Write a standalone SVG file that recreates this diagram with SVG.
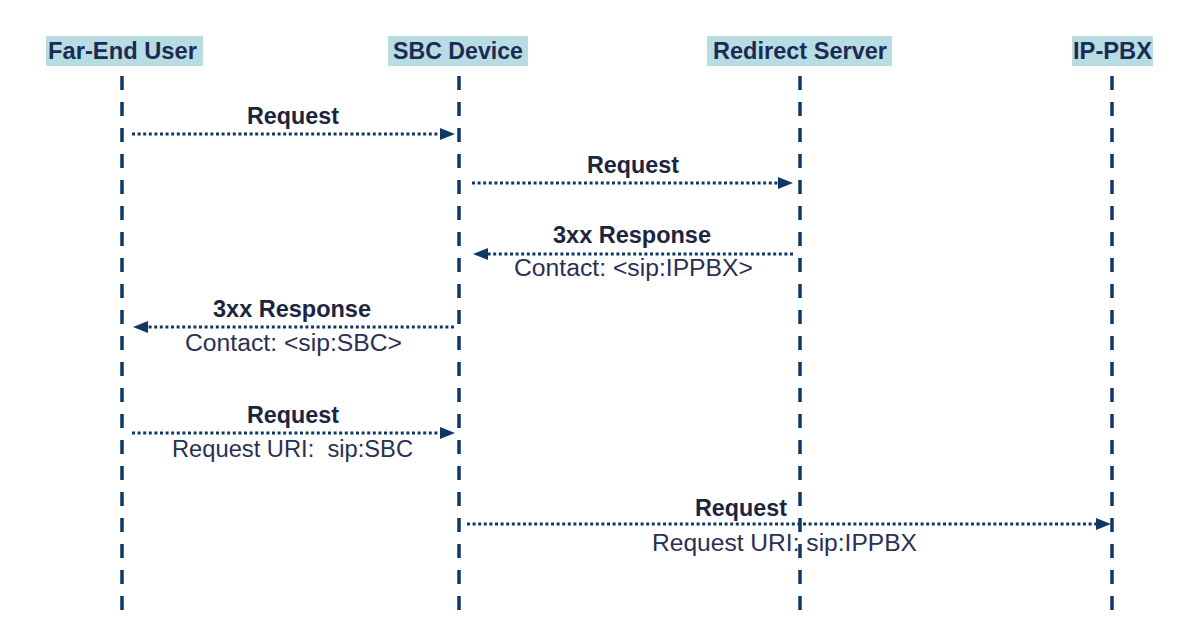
<svg xmlns="http://www.w3.org/2000/svg" width="1182" height="640" viewBox="0 0 1182 640">
<style>
.hdr{fill:#b7dde2}
.ht{font-family:"Liberation Sans",Arial,sans-serif;font-weight:bold;font-size:23px;fill:#1c2b55;text-anchor:middle}
.life{stroke:#0f3766;stroke-width:3.5;stroke-dasharray:14 12;fill:none}
.msg{stroke:#0f3766;stroke-width:3;stroke-dasharray:3 2.6;fill:none}
.lb{font-family:"Liberation Sans",Arial,sans-serif;font-weight:bold;font-size:23px;fill:#1c2540;text-anchor:middle}
.sub{font-family:"Liberation Sans",Arial,sans-serif;font-size:23px;fill:#2a2f55;text-anchor:middle}
</style>
<defs>
<marker id="ah" markerUnits="userSpaceOnUse" markerWidth="16" markerHeight="13" refX="0" refY="6" orient="auto">
<path d="M0,0 L15,6 L0,12 z" fill="#0f3766"/>
</marker>
</defs>
<rect width="1182" height="640" fill="#ffffff"/>
<g id="far-end-user">
<rect class="hdr" x="46" y="36" width="157" height="30"/>
<text class="ht" x="122.5" y="59" textLength="149" lengthAdjust="spacingAndGlyphs">Far-End User</text>
<line class="life" x1="122" y1="76" x2="122" y2="614"/>
</g>
<g id="sbc-device">
<rect class="hdr" x="388" y="36" width="140" height="30"/>
<text class="ht" x="458" y="59" textLength="130" lengthAdjust="spacingAndGlyphs">SBC Device</text>
<line class="life" x1="459" y1="76" x2="459" y2="614"/>
</g>
<g id="redirect-server">
<rect class="hdr" x="707" y="36" width="185" height="30"/>
<text class="ht" x="800" y="59" textLength="174" lengthAdjust="spacingAndGlyphs">Redirect Server</text>
<line class="life" x1="800" y1="76" x2="800" y2="614"/>
</g>
<g id="ip-pbx">
<rect class="hdr" x="1072" y="36" width="81" height="30"/>
<text class="ht" x="1112.5" y="59" textLength="79" lengthAdjust="spacingAndGlyphs">IP-PBX</text>
<line class="life" x1="1112" y1="76" x2="1112" y2="614"/>
</g>
<g id="connectors">
<line class="msg" x1="132" y1="134" x2="440" y2="134" marker-end="url(#ah)"/>
<text class="lb" x="293" y="124" textLength="92" lengthAdjust="spacingAndGlyphs">Request</text>
<line class="msg" x1="472" y1="183" x2="778" y2="183" marker-end="url(#ah)"/>
<text class="lb" x="633" y="173" textLength="92" lengthAdjust="spacingAndGlyphs">Request</text>
<line class="msg" x1="793" y1="254" x2="488" y2="254" marker-end="url(#ah)"/>
<text class="lb" x="632" y="243" textLength="158" lengthAdjust="spacingAndGlyphs">3xx Response</text>
<text class="sub" x="633.5" y="276" textLength="239" lengthAdjust="spacingAndGlyphs">Contact: &lt;sip:IPPBX&gt;</text>
<line class="msg" x1="454" y1="327" x2="148" y2="327" marker-end="url(#ah)"/>
<text class="lb" x="292" y="317" textLength="158" lengthAdjust="spacingAndGlyphs">3xx Response</text>
<text class="sub" x="293.5" y="351" textLength="217" lengthAdjust="spacingAndGlyphs">Contact: &lt;sip:SBC&gt;</text>
<line class="msg" x1="132" y1="433" x2="440" y2="433" marker-end="url(#ah)"/>
<text class="lb" x="293" y="423" textLength="92" lengthAdjust="spacingAndGlyphs">Request</text>
<text class="sub" x="292.5" y="457" xml:space="preserve" textLength="241" lengthAdjust="spacingAndGlyphs">Request URI:  sip:SBC</text>
<line class="msg" x1="467" y1="524" x2="1096" y2="524" marker-end="url(#ah)"/>
<text class="lb" x="741" y="516" textLength="92" lengthAdjust="spacingAndGlyphs">Request</text>
<text class="sub" x="784.5" y="551" textLength="265" lengthAdjust="spacingAndGlyphs">Request URI: sip:IPPBX</text>
</g>
</svg>
